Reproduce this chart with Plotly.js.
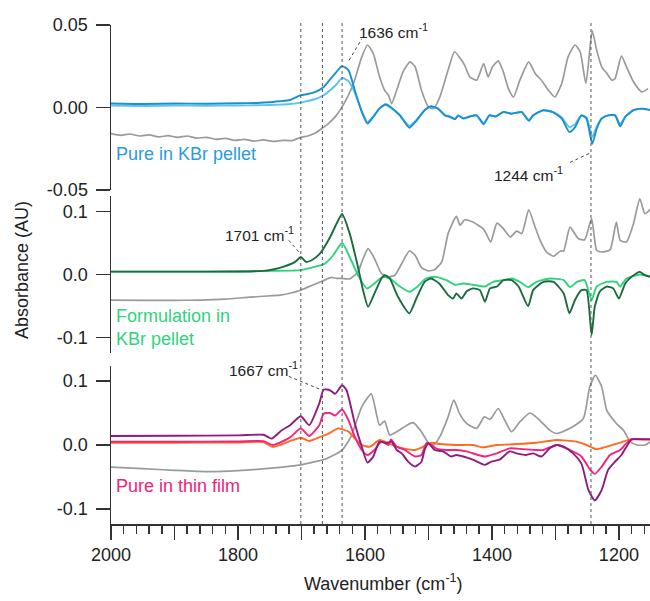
<!DOCTYPE html>
<html><head><meta charset="utf-8">
<script src="https://cdn.plot.ly/plotly-3.0.1.min.js"></script>
<style>body{margin:0;background:#fff}#chart{width:650px;height:601px}</style>
</head><body><div id="chart"></div>
<script>
// ---------- Data (wavenumber in cm-1, absorbance in AU) ----------
// Top panel: pure compound in KBr pellet
const topRefWn = [2000,1985,1970,1955,1940,1925,1910,1895,1880,1865,1850,1835,1820,1805,1790,1775,1760,1745,1730,1715,1701,1690,1678,1665,1658,1645,1636,1628,1619,1612,1605,1596,1587,1577,1569,1563,1558,1550,1540,1529,1521,1511,1500,1492,1482,1469,1459,1450,1443,1435,1424,1413,1406,1399,1390,1382,1374,1366,1356,1342,1332,1322,1311,1301,1290,1280,1269,1261,1252,1242,1235,1227,1219,1211,1206,1196,1188,1177,1164,1154];
const topRefAbs = [-0.0158,-0.0168,-0.0160,-0.0172,-0.0165,-0.0177,-0.0170,-0.0180,-0.0172,-0.0185,-0.0180,-0.0192,-0.0186,-0.0198,-0.0192,-0.0203,-0.0196,-0.0205,-0.0198,-0.0200,-0.0180,-0.0172,-0.0154,-0.0118,-0.0098,-0.0047,0.0004,0.0060,0.0135,0.0220,0.0307,0.0379,0.0328,0.0186,0.0105,0.0075,0.0024,0.0105,0.0216,0.0277,0.0247,0.0105,0.0004,-0.0006,0.0064,0.0227,0.0338,0.0298,0.0257,0.0186,0.0166,0.0267,0.0186,0.0247,0.0283,0.0216,0.0115,0.0064,0.0166,0.0277,0.0207,0.0166,0.0105,0.0064,0.0146,0.0307,0.0379,0.0338,0.0146,0.0465,0.0348,0.0247,0.0207,0.0166,0.0176,0.0312,0.0247,0.0156,0.0095,0.0115];
const topWn = [2000,1950,1900,1850,1800,1770,1750,1735,1718,1701,1690,1678,1665,1658,1645,1636,1626,1616,1605,1596,1587,1577,1567,1558,1545,1530,1519,1506,1496,1485,1474,1466,1458,1453,1445,1435,1424,1413,1404,1394,1382,1369,1353,1342,1335,1319,1304,1290,1278,1269,1259,1251,1242,1235,1227,1217,1206,1198,1190,1177,1164,1150];
const topPureDark = [0.0025,0.0022,0.0025,0.0023,0.0026,0.0028,0.0032,0.0038,0.0046,0.0075,0.0082,0.0095,0.0125,0.0156,0.0215,0.0251,0.0227,0.0105,-0.0027,-0.0097,-0.0057,-0.0006,0.0020,-0.0002,-0.0047,-0.0122,-0.0080,-0.0016,0.0008,-0.0006,-0.0047,-0.0057,-0.0070,-0.0047,-0.0067,-0.0054,-0.0047,-0.0101,-0.0047,-0.0054,-0.0027,-0.0037,-0.0027,-0.0080,-0.0047,-0.0016,-0.0027,-0.0067,-0.0148,-0.0118,-0.0047,-0.0067,-0.0219,-0.0128,-0.0067,-0.0047,-0.0047,-0.0114,-0.0057,-0.0016,-0.0006,-0.0016];
const topPureLight = [0.0012,0.0010,0.0013,0.0011,0.0013,0.0014,0.0016,0.0018,0.0022,0.0030,0.0040,0.0052,0.0075,0.0095,0.0140,0.0180,0.0160,0.0090,-0.0020,-0.0088,-0.0055,-0.0004,0.0016,-0.0004,-0.0045,-0.0110,-0.0075,-0.0016,0.0006,-0.0006,-0.0045,-0.0055,-0.0068,-0.0047,-0.0064,-0.0054,-0.0047,-0.0095,-0.0047,-0.0054,-0.0027,-0.0037,-0.0027,-0.0075,-0.0047,-0.0016,-0.0027,-0.0060,-0.0118,-0.0100,-0.0047,-0.0060,-0.0178,-0.0115,-0.0064,-0.0047,-0.0047,-0.0100,-0.0055,-0.0016,-0.0006,-0.0016];

// Middle panel: formulation in KBr pellet
const midRefWn = [2000,1950,1900,1860,1820,1781,1760,1734,1715,1702,1690,1676,1665,1653,1645,1636,1624,1611,1603,1595,1585,1574,1563,1553,1542,1530,1521,1511,1500,1490,1479,1469,1456,1450,1443,1430,1414,1409,1402,1392,1382,1371,1361,1353,1342,1332,1324,1314,1303,1292,1287,1277,1264,1254,1243,1235,1227,1214,1204,1198,1188,1177,1167,1159,1150];
const midRefAbs = [-0.0406,-0.0410,-0.0410,-0.0406,-0.0390,-0.0360,-0.0345,-0.0327,-0.0290,-0.0250,-0.0200,-0.0142,-0.0095,-0.0047,-0.0060,-0.0063,-0.0069,0.0041,0.0250,0.0410,0.0253,0.0016,-0.0037,-0.0011,0.0174,0.0373,0.0305,0.0110,0.0057,0.0079,0.0200,0.0648,0.0921,0.0779,0.0869,0.0831,0.0727,0.0648,0.0515,0.0815,0.0727,0.0594,0.0689,0.0648,0.1027,0.0752,0.0542,0.0357,0.0289,0.0373,0.0373,0.0752,0.0569,0.0550,0.0885,0.0384,0.0357,0.0390,0.0831,0.0542,0.0515,0.0806,0.1200,0.0964,0.1040];
const midDarkWn = [2000,1900,1800,1760,1745,1729,1710,1701,1693,1684,1671,1655,1645,1636,1624,1611,1603,1595,1585,1574,1569,1561,1548,1530,1519,1506,1496,1483,1469,1461,1456,1448,1440,1430,1419,1411,1403,1392,1382,1369,1358,1343,1335,1319,1303,1287,1278,1269,1259,1251,1243,1238,1230,1219,1209,1200,1190,1180,1167,1159,1150];
const midDarkAbs = [0.0045,0.0045,0.0048,0.0057,0.0080,0.0120,0.0200,0.0278,0.0200,0.0226,0.0330,0.0590,0.0800,0.0960,0.0648,0.0120,-0.0248,-0.0512,-0.0300,-0.0063,-0.0011,-0.0063,-0.0354,-0.0616,-0.0380,-0.0116,-0.0063,-0.0142,-0.0327,-0.0380,-0.0300,-0.0380,-0.0270,-0.0220,-0.0248,-0.0432,-0.0220,-0.0190,-0.0089,-0.0089,-0.0190,-0.0501,-0.0248,-0.0116,-0.0116,-0.0300,-0.0616,-0.0400,-0.0248,-0.0248,-0.0959,-0.0512,-0.0270,-0.0190,-0.0220,-0.0380,-0.0142,-0.0037,0.0041,-0.0011,-0.0037];
const midLightWn = [2000,1900,1800,1760,1713,1701,1680,1663,1650,1636,1624,1611,1597,1585,1572,1561,1545,1530,1517,1504,1488,1472,1458,1445,1430,1411,1398,1382,1369,1356,1343,1330,1309,1287,1277,1266,1254,1243,1235,1219,1204,1198,1188,1167,1150];
const midLightAbs = [0.0045,0.0045,0.0048,0.0057,0.0063,0.0070,0.0120,0.0173,0.0305,0.0500,0.0278,-0.0011,-0.0221,-0.0142,-0.0037,-0.0063,-0.0190,-0.0274,-0.0190,-0.0063,-0.0037,-0.0089,-0.0163,-0.0142,-0.0163,-0.0190,-0.0116,-0.0089,-0.0063,-0.0116,-0.0200,-0.0116,-0.0063,-0.0089,-0.0200,-0.0116,-0.0089,-0.0406,-0.0190,-0.0116,-0.0116,-0.0190,-0.0063,0.0000,-0.0037];

// Bottom panel: pure compound in thin film
const botRefWn = [2000,1950,1900,1848,1800,1747,1701,1660,1636,1622,1605,1590,1577,1569,1561,1550,1534,1524,1511,1500,1492,1482,1469,1460,1451,1440,1424,1412,1403,1390,1380,1369,1356,1340,1325,1309,1298,1277,1256,1246,1237,1227,1219,1204,1193,1182,1172,1159,1150];
const botRefAbs = [-0.0347,-0.0370,-0.0395,-0.0415,-0.0400,-0.0360,-0.0310,-0.0210,-0.0080,0.0130,0.0596,0.0800,0.0310,0.0373,0.0156,0.0207,0.0310,0.0350,0.0207,0.0036,0.0000,0.0130,0.0440,0.0700,0.0490,0.0337,0.0260,0.0440,0.0400,0.0570,0.0390,0.0207,0.0363,0.0500,0.0390,0.0233,0.0180,0.0260,0.0415,0.0907,0.1090,0.0907,0.0540,0.0337,0.0233,0.0052,0.0000,0.0000,0.0052];
const botPurpleWn = [2000,1900,1800,1760,1747,1731,1718,1701,1688,1672,1665,1655,1647,1636,1629,1616,1605,1596,1587,1577,1566,1558,1550,1542,1532,1521,1511,1506,1500,1495,1490,1477,1464,1456,1445,1430,1411,1401,1388,1372,1361,1346,1335,1322,1309,1298,1287,1272,1259,1248,1238,1227,1217,1206,1196,1188,1180,1167,1150];
const botPurpleAbs = [0.0140,0.0145,0.0150,0.0160,0.0100,0.0230,0.0310,0.0450,0.0310,0.0650,0.0866,0.0855,0.0800,0.0933,0.0855,0.0337,-0.0026,-0.0275,-0.0182,0.0052,0.0030,0.0052,-0.0078,-0.0130,-0.0260,-0.0337,-0.0260,-0.0078,0.0030,-0.0026,-0.0078,-0.0100,-0.0180,-0.0156,-0.0180,-0.0230,-0.0310,-0.0260,-0.0230,-0.0100,-0.0130,-0.0156,-0.0130,-0.0180,-0.0052,0.0000,-0.0026,-0.0130,-0.0290,-0.0700,-0.0866,-0.0700,-0.0389,-0.0260,-0.0156,-0.0026,0.0088,0.0088,0.0088];
const botPinkWn = [2000,1900,1800,1760,1745,1718,1701,1688,1672,1665,1655,1647,1636,1626,1616,1605,1596,1585,1574,1563,1559,1550,1537,1521,1511,1503,1495,1488,1472,1456,1440,1411,1392,1372,1351,1330,1319,1298,1277,1259,1245,1238,1227,1214,1198,1188,1180,1150];
const botPinkAbs = [0.0052,0.0052,0.0055,0.0060,0.0000,0.0120,0.0260,0.0140,0.0310,0.0490,0.0500,0.0460,0.0555,0.0390,0.0130,-0.0078,-0.0156,-0.0078,0.0052,0.0000,0.0088,-0.0026,-0.0078,-0.0180,-0.0156,0.0030,0.0000,-0.0052,-0.0078,-0.0078,-0.0100,-0.0180,-0.0130,-0.0052,-0.0065,-0.0078,-0.0078,0.0000,-0.0078,-0.0180,-0.0389,-0.0451,-0.0337,-0.0156,-0.0078,0.0030,0.0088,0.0088];
const botOrangeWn = [2000,1900,1800,1760,1745,1718,1701,1688,1672,1659,1642,1634,1626,1616,1605,1592,1577,1563,1550,1534,1521,1508,1495,1482,1456,1430,1414,1392,1361,1330,1298,1267,1251,1235,1219,1198,1182,1150];
const botOrangeAbs = [0.0036,0.0036,0.0040,0.0045,-0.0030,0.0060,0.0114,0.0062,0.0120,0.0170,0.0260,0.0240,0.0210,0.0104,0.0000,-0.0026,0.0078,0.0030,-0.0026,-0.0065,-0.0078,-0.0026,0.0036,0.0015,0.0000,0.0000,-0.0036,0.0000,0.0015,0.0036,0.0078,0.0052,0.0000,-0.0065,-0.0026,0.0036,0.0088,0.0088];

// Marked bands (cm-1)
const markedBands = [1701, 1667, 1636, 1244];
const xTickLabels = {'1900':'', '1700':'', '1500':'', '1300':'', '1100':''};

// ---------- Styling ----------
const FONT = 'Liberation Sans, Arial, sans-serif';
const GRAY = '#9a9a9a';
function tr(x, y, ax, color, w) {
  return {x: x, y: y, yaxis: ax, xaxis: 'x', type: 'scatter', mode: 'lines',
          line: {color: color, width: w || 1.9, shape: 'spline', smoothing: 0.55}, hoverinfo: 'skip'};
}
const traces = [
  tr(topRefWn, topRefAbs, 'y', GRAY, 1.7),
  tr(topWn, topPureLight, 'y', '#5cc3ee'),
  tr(topWn, topPureDark, 'y', '#1b8fd2'),
  tr(midRefWn, midRefAbs, 'y2', GRAY, 1.7),
  tr(midLightWn, midLightAbs, 'y2', '#2fd37c'),
  tr(midDarkWn, midDarkAbs, 'y2', '#1b6b3e'),
  tr(botRefWn, botRefAbs, 'y3', GRAY, 1.7),
  tr(botOrangeWn, botOrangeAbs, 'y3', '#ff6a1f'),
  tr(botPinkWn, botPinkAbs, 'y3', '#f5237a'),
  tr(botPurpleWn, botPurpleAbs, 'y3', '#8e1b80')
];

const yCommon = {showline: true, linecolor: '#333', linewidth: 1.5, ticks: 'outside',
  ticklen: 14, tickwidth: 1.5, tickcolor: '#333', showgrid: false, zeroline: false,
  tickfont: {family: FONT, size: 18, color: '#222'}, ticklabelstandoff: 4,
  tickmode: 'array', anchor: 'x', fixedrange: true};

const shapes = markedBands.map(b => ({type: 'line', xref: 'x', yref: 'paper',
  x0: b, x1: b, y0: 0, y1: 1.004, line: {color: '#555', width: 1, dash: 'dot'}}));
function leader(x0, y0, x1, y1, yref) {
  return {type: 'line', xref: 'x', yref: yref, x0: x0, y0: y0, x1: x1, y1: y1,
          line: {color: '#444', width: 1, dash: 'dot'}};
}
shapes.push(leader(1625, 0.0287, 1605, 0.0415, 'y'));
shapes.push(leader(1277, -0.0332, 1247, -0.0278, 'y'));
shapes.push(leader(1720, 0.0542, 1704, 0.0357, 'y2'));
shapes.push(leader(1720, 0.1073, 1671, 0.0871, 'y3'));

function note(text, x, y, yref, color, size) {
  return {text: text, x: x, y: y, xref: 'x', yref: yref, showarrow: false,
          xanchor: 'left', yanchor: 'middle', align: 'left',
          font: {family: FONT, size: size || 15.5, color: color || '#222'}};
}
const annotations = [
  note('1636 cm<sup>-1</sup>', 1613, 0.0462, 'y'),
  note('1244 cm<sup>-1</sup>', 1400, -0.0400, 'y'),
  note('1701 cm<sup>-1</sup>', 1823, 0.0640, 'y2'),
  note('1667 cm<sup>-1</sup>', 1817, 0.1195, 'y3'),
  note('Pure in KBr pellet', 1995, -0.0278, 'y', '#2a9be0', 18),
  note('Formulation in<br>KBr pellet', 1995, -0.0848, 'y2', '#2fd37c', 18),
  note('Pure in thin film', 1995, -0.0648, 'y3', '#f0237a', 18),
  {text: 'Absorbance (AU)', xref: 'paper', yref: 'paper', x: -0.165, y: 0.509,
   showarrow: false, textangle: -90, xanchor: 'center', yanchor: 'middle',
   font: {family: FONT, size: 18, color: '#222'}},
  {text: 'Wavenumber (cm<sup>-1</sup>)', xref: 'paper', yref: 'paper', x: 0.506, y: -0.118,
   showarrow: false, xanchor: 'center', yanchor: 'middle',
   font: {family: FONT, size: 18, color: '#222'}}
];

const layout = {
  width: 650, height: 601, paper_bgcolor: '#fff', plot_bgcolor: '#fff',
  margin: {l: 111, r: 0, t: 25, b: 77}, showlegend: false,
  font: {family: FONT, color: '#222'},
  xaxis: {range: [2000, 1151], anchor: 'y3', showline: true, linecolor: '#333', linewidth: 1.5,
    ticks: 'outside', ticklen: 14, tickwidth: 1.5, tickcolor: '#333', tick0: 0, dtick: 100,
    labelalias: xTickLabels, separatethousands: false, showgrid: false, zeroline: false,
    tickfont: {family: FONT, size: 18, color: '#222'}, fixedrange: true,
    minor: {dtick: 20, tick0: 0, ticks: 'outside', ticklen: 8, tickwidth: 1.5, tickcolor: '#333', showgrid: false}},
  yaxis: Object.assign({}, yCommon, {domain: [0.669, 1], range: [-0.05, 0.05],
    tickvals: [-0.05, 0, 0.05], ticktext: ['-0.05', '0.00', '0.05']}),
  yaxis2: Object.assign({}, yCommon, {domain: [0.342, 0.658], range: [-0.125, 0.125],
    tickvals: [-0.1, 0, 0.1], ticktext: ['-0.1', '0.0', '0.1']}),
  yaxis3: Object.assign({}, yCommon, {domain: [0, 0.3166], range: [-0.1234, 0.1234],
    tickvals: [-0.1, 0, 0.1], ticktext: ['-0.1', '0.0', '0.1']}),
  shapes: shapes, annotations: annotations
};
Plotly.newPlot('chart', traces, layout, {displayModeBar: false, staticPlot: true});
</script></body></html>
